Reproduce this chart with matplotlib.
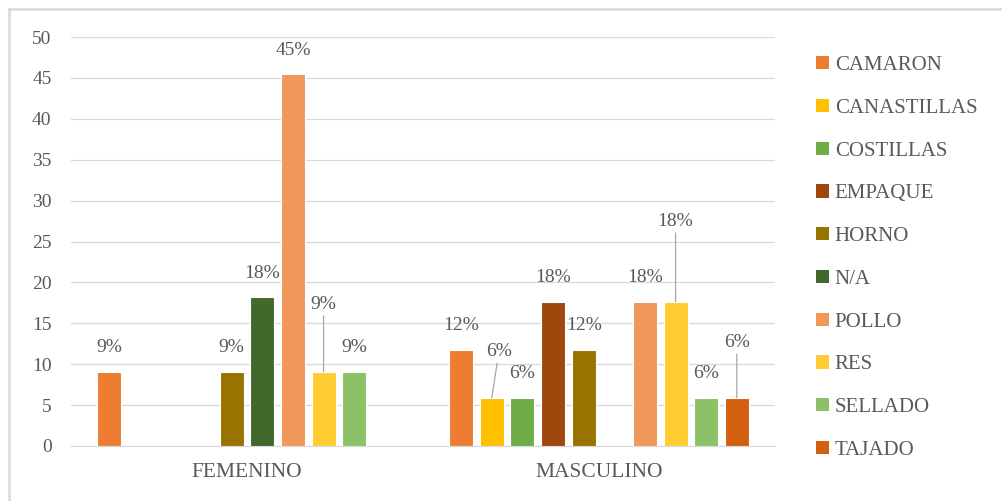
import matplotlib.pyplot as plt
from matplotlib.lines import Line2D
from matplotlib.patches import Patch
import numpy as np

grupos = ["FEMENINO", "MASCULINO"]
areas = ["CAMARON", "CANASTILLAS", "COSTILLAS", "EMPAQUE", "HORNO",
         "N/A", "POLLO", "RES", "SELLADO", "TAJADO"]
femenino = [9.09, 0, 0, 0, 9.09, 18.18, 45.45, 9.09, 9.09, 0]
masculino = [11.76, 5.88, 5.88, 17.65, 11.76, 0, 17.65, 17.65, 5.88, 5.88]
colores = ["#ED7D31", "#FFC000", "#70AD47", "#9E480E", "#997300",
           "#43682B", "#F1975A", "#FFCD33", "#8CC168", "#D3600F"]

# etiquetas desplazadas con linea guia: (grupo, area) -> desplazamiento en pixeles
desplazadas = {
    (0, "RES"): (0, 67),
    (1, "CANASTILLAS"): (7, 46),
    (1, "RES"): (0, 80),
    (1, "TAJADO"): (0, 55),
}

gris = "#595959"
fuente = "Liberation Serif"

W, H = 1003, 501
fig = plt.figure(figsize=(W / 100, H / 100), dpi=100)
ax = fig.add_axes([71 / W, (H - 446) / H, (775 - 71) / W, (446 - 37) / H])

datos = np.array([femenino, masculino])
x = np.arange(len(grupos))
paso = 0.087
ancho = 0.068

for i, area in enumerate(areas):
    pos = x + (i - 4.5) * paso
    vals = datos[:, i]
    ax.bar(pos, vals, ancho, color=colores[i], edgecolor="white", linewidth=0.8,
           zorder=3, label=area)
    for g, (px, v) in enumerate(zip(pos, vals)):
        if v == 0:
            continue
        txt = f"{v:.0f}%"
        if (g, area) in desplazadas:
            dx, dy = desplazadas[(g, area)]
            ax.annotate(txt, (px, v), xytext=(dx, dy), textcoords="offset pixels",
                        ha="center", va="center", fontsize=14, color=gris,
                        family=fuente, zorder=4,
                        arrowprops=dict(arrowstyle="-", color="#A6A6A6", lw=0.9,
                                        shrinkA=0, shrinkB=0))
        else:
            ax.annotate(txt, (px, v), xytext=(0, 24), textcoords="offset pixels",
                        ha="center", va="center", fontsize=14, color=gris,
                        family=fuente, zorder=4)

ax.set_xlim(-0.5, 1.5)
ax.set_ylim(0, 50)
ax.set_yticks(range(0, 51, 5))
ax.set_xticks(x)
ax.set_xticklabels(grupos)
ax.yaxis.grid(True, color="#D9D9D9", linewidth=0.9, zorder=0)
ax.set_axisbelow(True)
for s in ["top", "right", "left"]:
    ax.spines[s].set_visible(False)
ax.spines["bottom"].set_color("#D9D9D9")
ax.spines["bottom"].set_linewidth(0.9)
ax.tick_params(axis="y", length=0, pad=14, labelsize=14, labelcolor=gris)
ax.tick_params(axis="x", length=0, pad=12, labelsize=15.5, labelcolor=gris)
for lbl in ax.get_xticklabels() + ax.get_yticklabels():
    lbl.set_family(fuente)

handles = [Patch(facecolor=c, edgecolor="none") for c in colores]
fig.legend(handles, areas, loc="center left",
           bbox_to_anchor=(816 / W, (H - 258) / H), frameon=False,
           prop={"family": fuente, "size": 15}, labelcolor=gris,
           handlelength=0.6, handleheight=0.6, handletextpad=0.3,
           labelspacing=1.14, borderpad=0, borderaxespad=0)

# marco exterior del grafico
fig.add_artist(Line2D([9.5 / W, 1], [(H - 9) / H, (H - 9) / H],
                      transform=fig.transFigure, color="#D9D9D9", lw=1.8))
fig.add_artist(Line2D([9.5 / W, 9.5 / W], [0, (H - 9) / H],
                      transform=fig.transFigure, color="#D9D9D9", lw=1.8))

fig.savefig("out.png", dpi=100)
